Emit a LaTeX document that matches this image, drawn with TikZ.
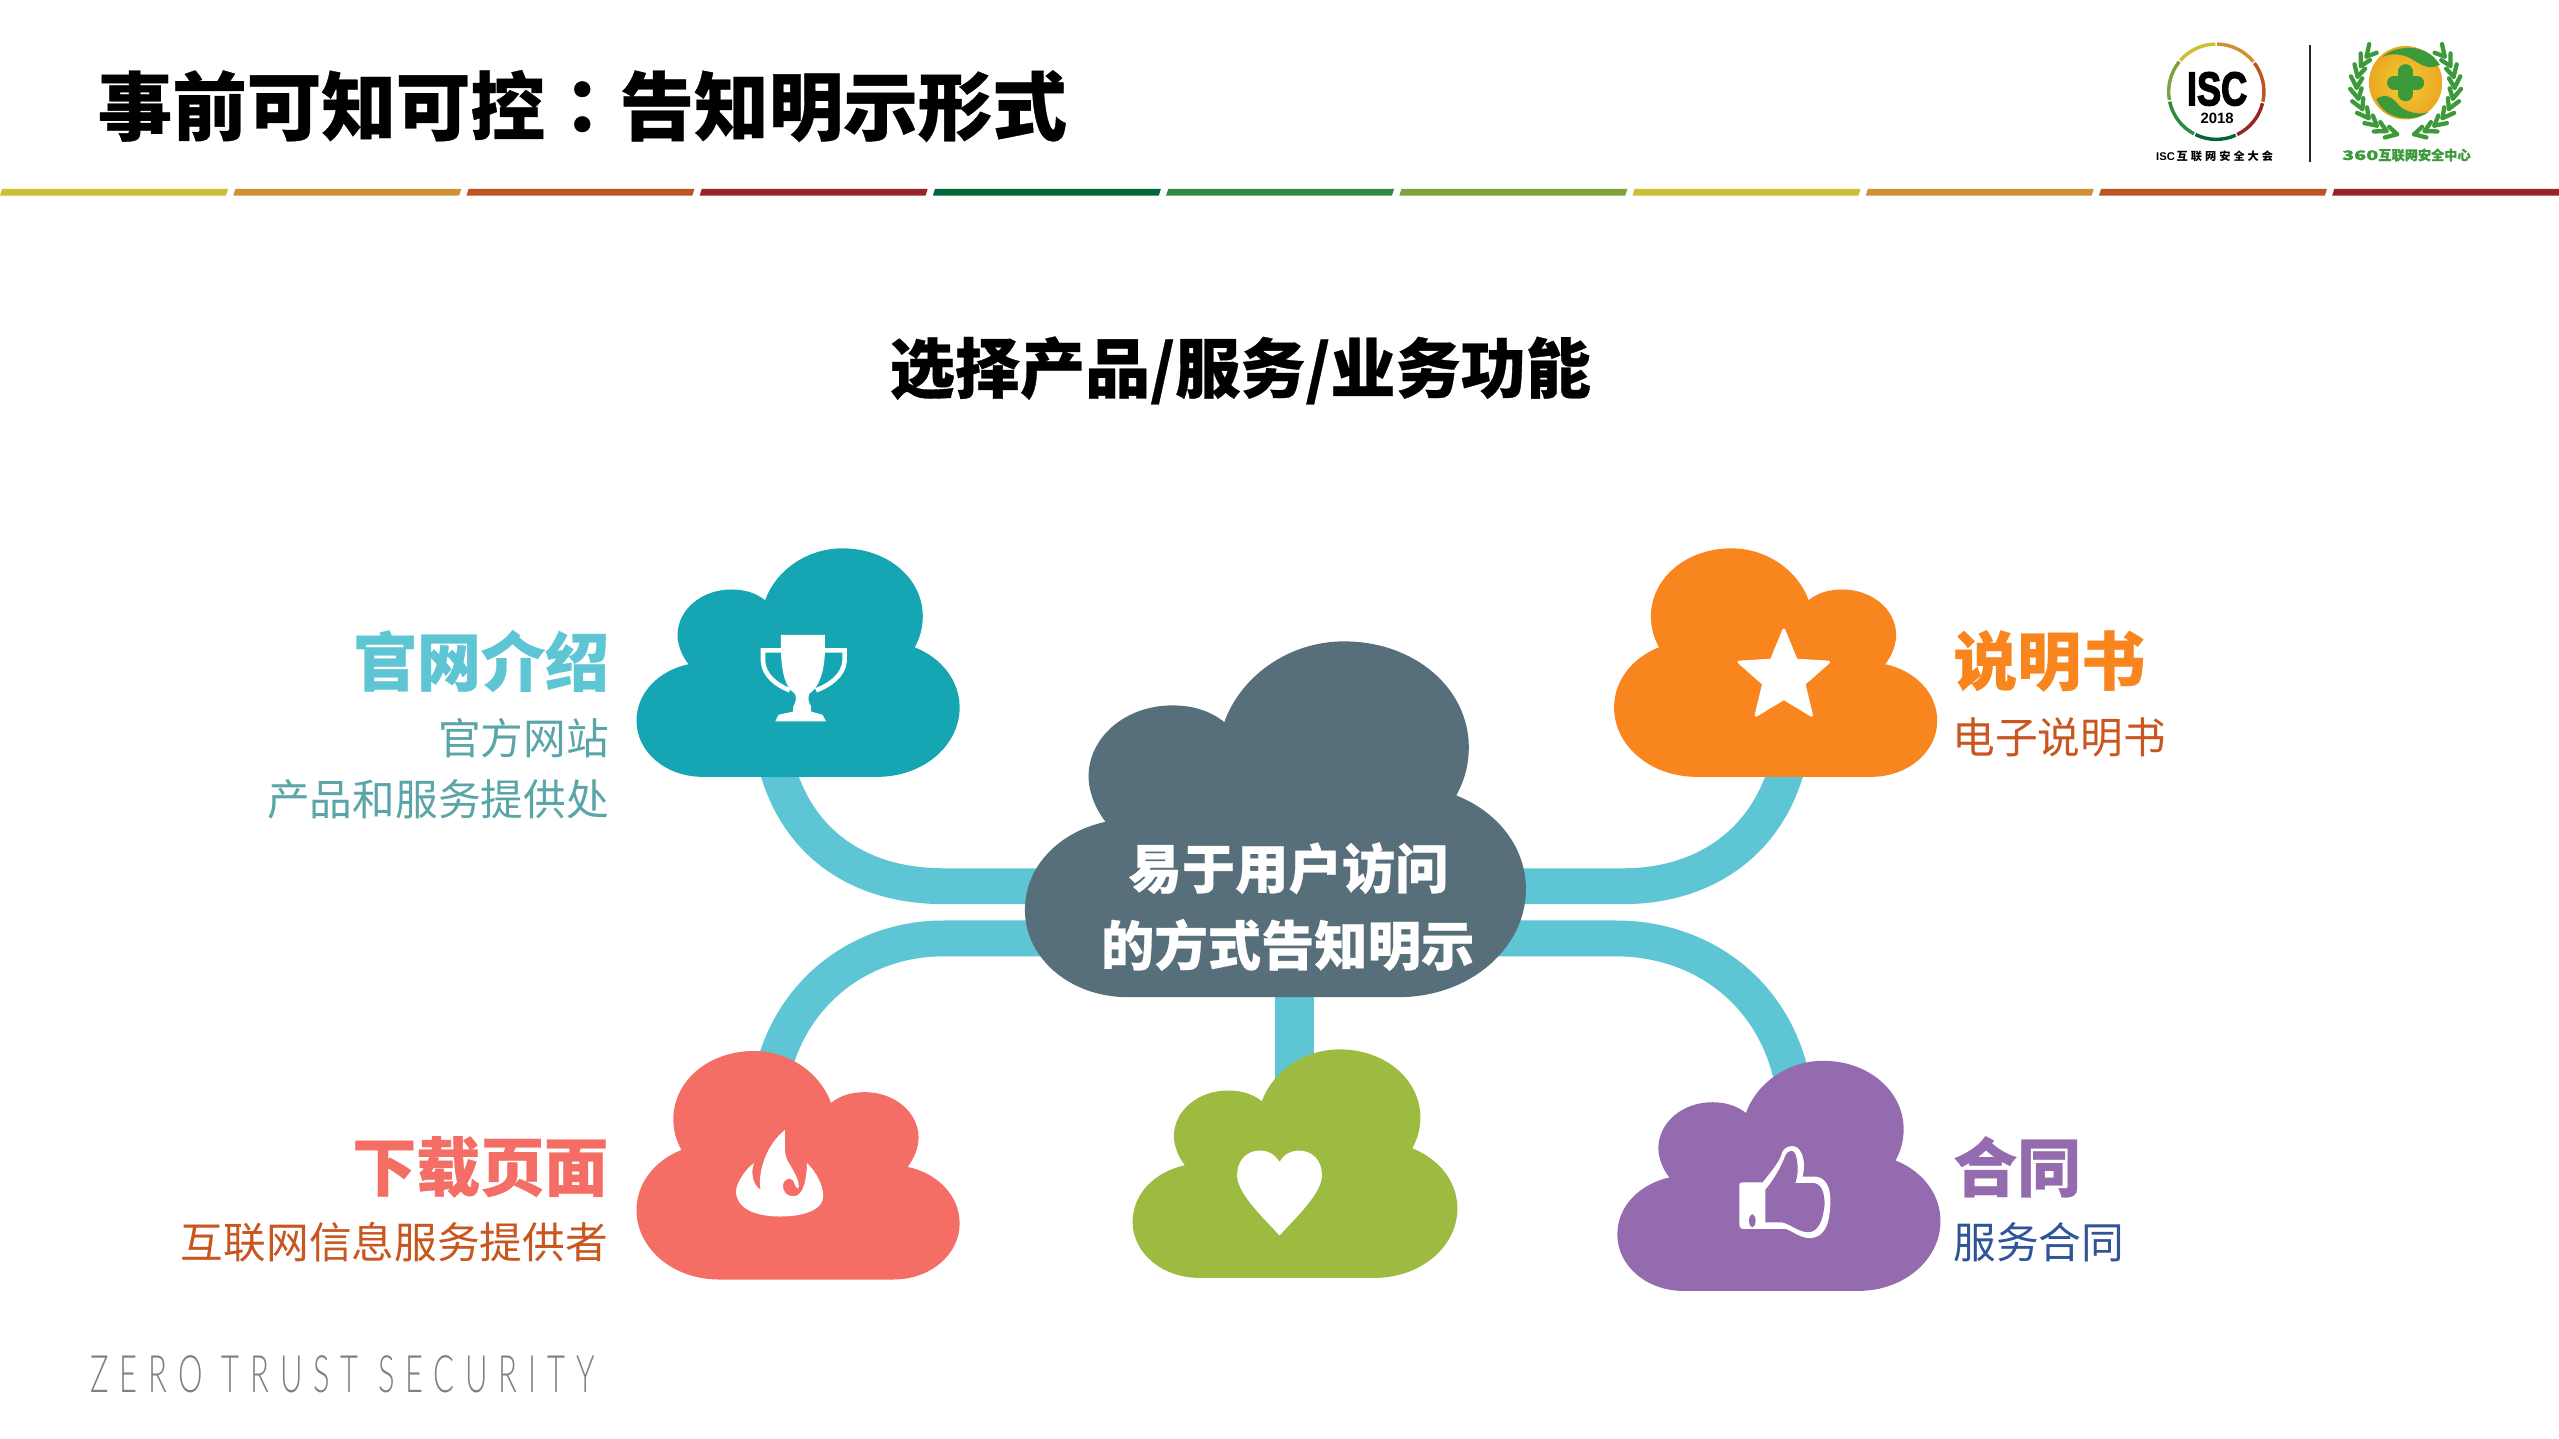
\documentclass[tikz,border=0pt]{standalone}
\usepackage{graphicx}
\usepackage{fontspec}
\setmainfont[BoldFeatures={FakeBold=0.5}]{Noto Sans CJK SC}
\newfontfamily\cjktc[BoldFeatures={FakeBold=0.5}]{Noto Sans CJK TC}
\newfontfamily\zfont[LetterSpace=21,FakeStretch=0.6]{Lato Light}
\newfontfamily\arialb[BoldFont=Liberation Sans Bold]{Liberation Sans}
\newfontfamily\iscfont[FakeBold=3.2]{Liberation Sans Bold}
\newfontfamily\spaced[LetterSpace=27]{Noto Sans CJK SC}
\newcommand{\fsz}[1]{\fontsize{#1pt}{#1pt}\selectfont}
\definecolor{linkc}{HTML}{5EC5D4}
\definecolor{tealc}{HTML}{16A6B3}
\definecolor{hubc}{HTML}{576E7B}
\definecolor{orangec}{HTML}{F9851E}
\definecolor{coralc}{HTML}{F46E65}
\definecolor{greenc}{HTML}{9DBB41}
\definecolor{purplec}{HTML}{946BAE}
\definecolor{barA}{HTML}{CDBF33}
\definecolor{barB}{HTML}{CE9235}
\definecolor{barC}{HTML}{BC5522}
\definecolor{barD}{HTML}{992428}
\definecolor{barE}{HTML}{036639}
\definecolor{barF}{HTML}{2E8B40}
\definecolor{barG}{HTML}{7FA03A}
\definecolor{lawn}{HTML}{3C9A3A}
\definecolor{ballin}{HTML}{F6CC35}
\definecolor{ballout}{HTML}{E9A822}
\definecolor{subteal}{HTML}{5AA5A8}
\definecolor{suborange}{HTML}{C8561E}
\definecolor{subblue}{HTML}{2F5597}
\tikzset{
  link/.style={draw=linkc,line width=12.5pt},
  headline/.style={font=\bfseries\fsz{22.3},inner sep=0pt},
  subline/.style={font=\fsz{14.9},inner sep=0pt},
  hubline/.style={font=\bfseries\fsz{18.6},text=white,inner sep=0pt},
  ringseg/.style={line width=1.2pt},
  leafstroke/.style={draw=lawn,line width=1.5pt,line cap=round},
}
\newcommand{\cloudfill}[6]{% x y xscale yscale colour name
  \begin{scope}[shift={(#1,#2)},xscale=#3,yscale=#4]
    \fill[#5] (0.205,1) .. controls (0.09,1) and (0,0.89) .. (0,0.755)
      .. controls (0,0.63) and (0.07,0.535) .. (0.161,0.507)
      .. controls (0.14,0.47) and (0.127,0.42) .. (0.127,0.38)
      .. controls (0.127,0.27) and (0.20,0.18) .. (0.294,0.18)
      .. controls (0.335,0.18) and (0.37,0.195) .. (0.398,0.227)
      .. controls (0.43,0.10) and (0.525,0) .. (0.637,0)
      .. controls (0.78,0) and (0.886,0.135) .. (0.886,0.297)
      .. controls (0.886,0.345) and (0.878,0.39) .. (0.861,0.433)
      .. controls (0.945,0.48) and (1,0.58) .. (1,0.697)
      .. controls (1,0.86) and (0.89,1) .. (0.745,1) -- cycle;
    \coordinate (#6) at (0.5,0.6);
  \end{scope}}
\begin{document}
\begin{tikzpicture}[x=0.02cm,y=-0.02cm]
\useasboundingbox (0,0) rectangle (1568,881.7);
\fill[white] (0,0) rectangle (1568,881.7);
% header bars
\foreach \i/\c in {0/barA,1/barB,2/barC,3/barD,4/barE,5/barF,6/barG,7/barA,8/barB,9/barC}
  \fill[\c] ({\i*142.9+1.3},115.8) -- ({\i*142.9+139.7},115.8) -- ({\i*142.9+138.4},119.9) -- ({\i*142.9},119.9) -- cycle;
\fill[barD] (1430.3,115.8) -- (1568,115.8) -- (1568,119.9) -- (1429,119.9) -- cycle;
% title
\node[anchor=west,inner sep=0pt,font=\bfseries\fsz{26}] (title) at (59.5,65) {事前可知可控{\cjktc ：}告知明示形式};
\node[inner sep=0pt,font=\bfseries\fsz{22.7}] (subtitle) at (760,227) {选择产品/服务/业务功能};
% connector ends
\coordinate (footTeal) at (476,470);
\coordinate (footOrange) at (1095,470);
\coordinate (footCoral) at (474,655);
\coordinate (footPurple) at (1097,657);
\coordinate (footGreen) at (793,665);
\coordinate (hubTL) at (660,543);
\coordinate (hubTR) at (900,543);
\coordinate (hubBL) at (660,575);
\coordinate (hubBR) at (900,575);
\coordinate (hubB) at (793,600);
\draw[link] (footTeal) .. controls (490,520) and (530,543) .. (578,543) -- (hubTL);
\draw[link] (footOrange) .. controls (1081,520) and (1040,543) .. (995,543) -- (hubTR);
\draw[link] (footCoral) .. controls (487,605) and (530,575) .. (578,575) -- (hubBL);
\draw[link] (footPurple) .. controls (1084,605) and (1040,575) .. (990,575) -- (hubBR);
\draw[draw=linkc,line width=13.6pt] (hubB) -- (footGreen);
% clouds
\cloudfill{390}{336}{198}{140}{tealc}{cloudTeal}
\cloudfill{1187}{336}{-198}{140}{orangec}{cloudOrange}
\cloudfill{628}{393}{307}{218}{hubc}{cloudHub}
\cloudfill{588}{644}{-198}{140}{coralc}{cloudCoral}
\cloudfill{694}{643}{199}{140}{greenc}{cloudGreen}
\cloudfill{991}{650}{198}{141}{purplec}{cloudPurple}
% hub text
\node[hubline] (hubA) at (789.5,532) {易于用户访问};
\node[hubline] (hubC) at (789,579) {的方式告知明示};
% trophy
\fill[white] (478.5,389) -- (505.5,389) -- (505.5,399) .. controls (505,412) and (502,421) .. (496,425)
  .. controls (495,427) and (495,430) .. (497,433) -- (497,436) -- (504,438) -- (506,442) -- (475,442) -- (477,438) -- (486,436) -- (486,433)
  .. controls (488,430) and (488,427) .. (487,425) .. controls (481,421) and (479,412) .. (478.5,399) -- cycle;
\draw[white,line width=1.6pt] (478.5,398.5) -- (467.5,398.5) -- (467.5,405) .. controls (468,414) and (476,420) .. (484,423);
\draw[white,line width=1.6pt] (505.5,398.5) -- (517.5,398.5) -- (517.5,405) .. controls (517,414) and (508,420) .. (500,423);
% star
\fill[white,draw=white,line join=round,line width=1pt] (1093,386) -- (1100.6,404.5) -- (1120.5,405.7) -- (1105.4,419) -- (1110,438.3) -- (1093,428) -- (1076,438.3) -- (1080.6,419) -- (1065.5,405.7) -- (1085.4,404.5) -- cycle;
% flame
\fill[white] (481,692.4) .. controls (481,700) and (480,707) .. (483,712)
  .. controls (488,720) and (489.5,724) .. (489.5,727)
  .. controls (489,729) and (488,728) .. (487,726)
  .. controls (486,721) and (482,721) .. (480,725)
  .. controls (479,730) and (482,733) .. (486,733)
  .. controls (491,733) and (494,727) .. (494.5,712.7)
  .. controls (500,718) and (504.4,726) .. (504.4,733)
  .. controls (504.4,741) and (493,745.4) .. (478,745.4)
  .. controls (462,745.4) and (451,740) .. (451,730)
  .. controls (451,725) and (457,716) .. (462,712.7)
  .. controls (460,718) and (461,726) .. (466,729)
  .. controls (464,716) and (471,700) .. (481,692.4) -- cycle;
% heart
\fill[white] (784,712) .. controls (787,707) and (791,705) .. (796,705)
  .. controls (804,705) and (810,711) .. (810,720)
  .. controls (810,731) and (795,745) .. (784,757)
  .. controls (773,745) and (758,731) .. (758,720)
  .. controls (758,711) and (764,705) .. (772,705)
  .. controls (777,705) and (781,707) .. (784,712) -- cycle;
% thumb
\fill[white] (1068,724.5) -- (1080,724.5) .. controls (1086,717) and (1091,711) .. (1092,706)
  .. controls (1093,703) and (1098,701) .. (1101,703) .. controls (1106,707) and (1106,715) .. (1104.5,721)
  -- (1113,721) .. controls (1120,722) and (1122,730) .. (1121.5,738)
  .. controls (1121,750) and (1118,759) .. (1108,758.6)
  .. controls (1102,758) and (1098,754) .. (1094,753)
  -- (1068,753) .. controls (1066,753) and (1065.7,751) .. (1065.7,749) -- (1065.7,727) .. controls (1065.7,725) and (1066,724.5) .. (1068,724.5) -- cycle;
\fill[purplec] (1081.7,729) .. controls (1086,724) and (1091,716) .. (1094,708)
  .. controls (1095,705) and (1099,704) .. (1100,707) .. controls (1102,712) and (1102,720) .. (1100,725)
  -- (1112,725) .. controls (1117,726) and (1118,733) .. (1118,738)
  .. controls (1117,748) and (1114,755) .. (1108,755)
  .. controls (1102,755) and (1097,750) .. (1092,749) -- (1081.7,749) -- cycle;
\fill[purplec] (1073.7,748) ellipse (2 and 4);
% labels
\node[headline,anchor=east,text=linkc] (lab1) at (373.5,405) {官网介绍};
\node[subline,anchor=east,text=subteal] (lab1a) at (373.5,452) {官方网站};
\node[subline,anchor=east,text=subteal] (lab1b) at (373.5,490) {产品和服务提供处};
\node[headline,anchor=west,text=orangec] (lab2) at (1196.5,405) {说明书};
\node[subline,anchor=west,text=suborange] (lab2a) at (1196,452) {电子说明书};
\node[headline,anchor=east,text=coralc] (lab3) at (373,715) {下载页面};
\node[subline,anchor=east,text=suborange] (lab3a) at (373,761) {互联网信息服务提供者};
\node[headline,anchor=west,text=purplec] (lab4) at (1196.5,715) {合同};
\node[subline,anchor=west,text=subblue] (lab4a) at (1196.5,761) {服务合同};
\node[anchor=west,inner sep=0pt,text=black!50] (zero) at (55,842) {\zfont\fsz{18}ZERO TRUST SECURITY};
% ISC logo
\begin{scope}[shift={(1358,56.2)}]
  \draw[ringseg,barB] (89:29.2 and -29.2) arc[start angle=-89,end angle=-39,radius=29.2];
  \draw[ringseg,barC] (37:29.2 and -29.2) arc[start angle=-37,end angle=12,radius=29.2];
  \draw[ringseg,barD] (-14:29.2 and -29.2) arc[start angle=14,end angle=64,radius=29.2];
  \draw[ringseg,barE] (-66:29.2 and -29.2) arc[start angle=66,end angle=116,radius=29.2];
  \draw[ringseg,barF] (-118:29.2 and -29.2) arc[start angle=118,end angle=168,radius=29.2];
  \draw[ringseg,barG] (-170:29.2 and -29.2) arc[start angle=170,end angle=219,radius=29.2];
  \draw[ringseg,barA] (139:29.2 and -29.2) arc[start angle=221,end angle=269,radius=29.2];
\end{scope}
\node[inner sep=0pt,font=\iscfont\fsz{15}] (isc) at (1358.5,54.5) {\scalebox{0.84}[1.1]{ISC}};
\node[inner sep=0pt,font=\arialb\bfseries\fsz{5.2}] (year) at (1358.5,72.7) {2018};
\node[inner sep=0pt,font=\bfseries\fsz{3.9}] (iscname) at (1357,96) {{\arialb\bfseries ISC}\,{\spaced\bfseries 互联网安全大会}};
\coordinate (divTop) at (1415.5,27.6);
\coordinate (divBot) at (1415.5,99);
\draw[black!85,line width=0.6pt] (divTop) -- (divBot);
% 360 logo
\begin{scope}[shift={(1474,50.7)}]
  \shade[inner color=ballin,outer color=ballout] (0,0) circle (22.5);
  \fill[lawn] (-14,-16) .. controls (-8,-22) and (12,-26) .. (21,-11) .. controls (14,-7) and (8,-12) .. (3,-15) .. controls (-3,-18) and (-9,-18) .. (-14,-16) -- cycle;
  \fill[lawn] (-18,10) .. controls (-12,6) and (-8,9) .. (-4,14) .. controls (0,18) and (8,20) .. (14,18) .. controls (6,24) and (-12,24) .. (-18,10) -- cycle;
  \draw[lawn,line width=5pt,line cap=round] (-7,0) -- (7,0);
  \draw[lawn,line width=5pt,line cap=round] (0,-7) -- (0,7);
  \foreach \s in {1,-1} {
    \begin{scope}[xscale=\s]
      \foreach \a in {80,67,54,41,28,15,2,-11,-24,-37} {
        \draw[leafstroke] ({30*cos(\a)},{2+30*sin(\a)}) -- ({34*cos(\a-12)},{2+34*sin(\a-12)});
        \draw[leafstroke] ({30*cos(\a)},{2+30*sin(\a)}) -- ({27*cos(\a-12)},{2+27*sin(\a-12)});
      }
    \end{scope}
  }
\end{scope}
\node[inner sep=0pt,text=lawn,font=\bfseries\fsz{4.6}] (name360) at (1474.5,95) {\scalebox{1.5}[1]{360}互联网安全中心};
\end{tikzpicture}
\end{document}
